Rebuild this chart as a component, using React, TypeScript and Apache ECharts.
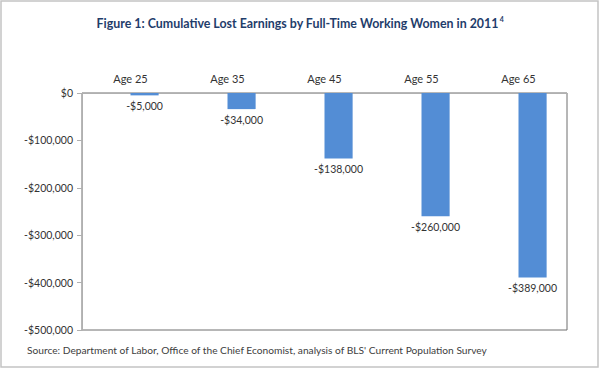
import React, { useEffect, useRef } from "react";
import * as echarts from "echarts";

const categories = ["Age 25", "Age 35", "Age 45", "Age 55", "Age 65"];
const lostEarnings = [-5000, -34000, -138000, -260000, -389000];
const emptySeries = [null, null, null, null, null];
const titleText = "Figure 1: Cumulative Lost Earnings by Full-Time Working Women in 2011";
const titleNote = "4";
const sourceText =
  "Source: Department of Labor, Office of the Chief Economist, analysis of BLS' Current Population Survey";

const fmt = (v: number) => {
  const s = "$" + Math.abs(v).toLocaleString("en-US");
  return v < 0 ? "-" + s : s;
};

export default function App() {
  const ref = useRef<HTMLDivElement>(null);
  useEffect(() => {
    if (!ref.current) return;
    const chart = echarts.init(ref.current, null, { renderer: "svg" });
    const font = "Lato";
    chart.setOption({
      animation: false,
      backgroundColor: "#ffffff",
      textStyle: { fontFamily: font },
      title: {
        text: `{a|${titleText}}{s|${titleNote}}`,
        left: "center",
        top: 10,
        textStyle: {
          rich: {
            a: { fontFamily: font, fontWeight: "bold", fontSize: 12.4, color: "#1F3D6B", lineHeight: 16 },
            s: { fontFamily: font, fontWeight: "bold", fontSize: 7, color: "#1F3D6B", verticalAlign: "top", lineHeight: 16, padding: [0, 0, 6, 1] },
          },
        },
      },
      grid: {
        left: 82,
        right: 33,
        top: 93,
        bottom: 40,
        show: true,
        borderColor: "#6e6e6e",
        borderWidth: 1,
      },
      xAxis: {
        type: "category",
        position: "top",
        data: categories,
        axisLine: { show: true, lineStyle: { color: "#b0b0b0", width: 1 } },
        axisTick: { show: false },
        axisLabel: { fontFamily: font, fontSize: 11, color: "#333333", margin: 9 },
      },
      yAxis: {
        type: "value",
        min: -500000,
        max: 0,
        interval: 100000,
        axisLine: { show: true, lineStyle: { color: "#b0b0b0", width: 1 } },
        axisTick: { show: true, length: 5, lineStyle: { color: "#b0b0b0" } },
        splitLine: { show: false },
        axisLabel: { fontFamily: font, fontSize: 10.5, color: "#333333", margin: 9, formatter: (v: number) => fmt(v) },
      },
      series: [
        {
          type: "bar",
          data: emptySeries,
          barGap: "0%",
          barCategoryGap: "42%",
          itemStyle: { color: "#538DD5" },
        },
        {
          type: "bar",
          data: lostEarnings,
          barGap: "0%",
          barCategoryGap: "42%",
          itemStyle: { color: "#538DD5" },
          label: {
            show: true,
            position: "bottom",
            distance: 5,
            fontFamily: font,
            fontSize: 10.5,
            color: "#333333",
            formatter: (p: any) => fmt(p.value),
          },
        },
      ],
      graphic: [
        {
          type: "rect",
          shape: { x: 1, y: 1, width: 597, height: 366 },
          style: { fill: "none", stroke: "#c4c4c4", lineWidth: 1.5 },
          silent: true,
        },
        {
          type: "text",
          left: 27,
          top: 345,
          style: { text: sourceText, fontFamily: font, fontSize: 10.2, fill: "#404040" },
        },
      ],
    });
    return () => chart.dispose();
  }, []);
  return (
    <div
      ref={ref}
      style={{ position: "fixed", left: 0, top: 0, width: 600, height: 370 }}
    />
  );
}
